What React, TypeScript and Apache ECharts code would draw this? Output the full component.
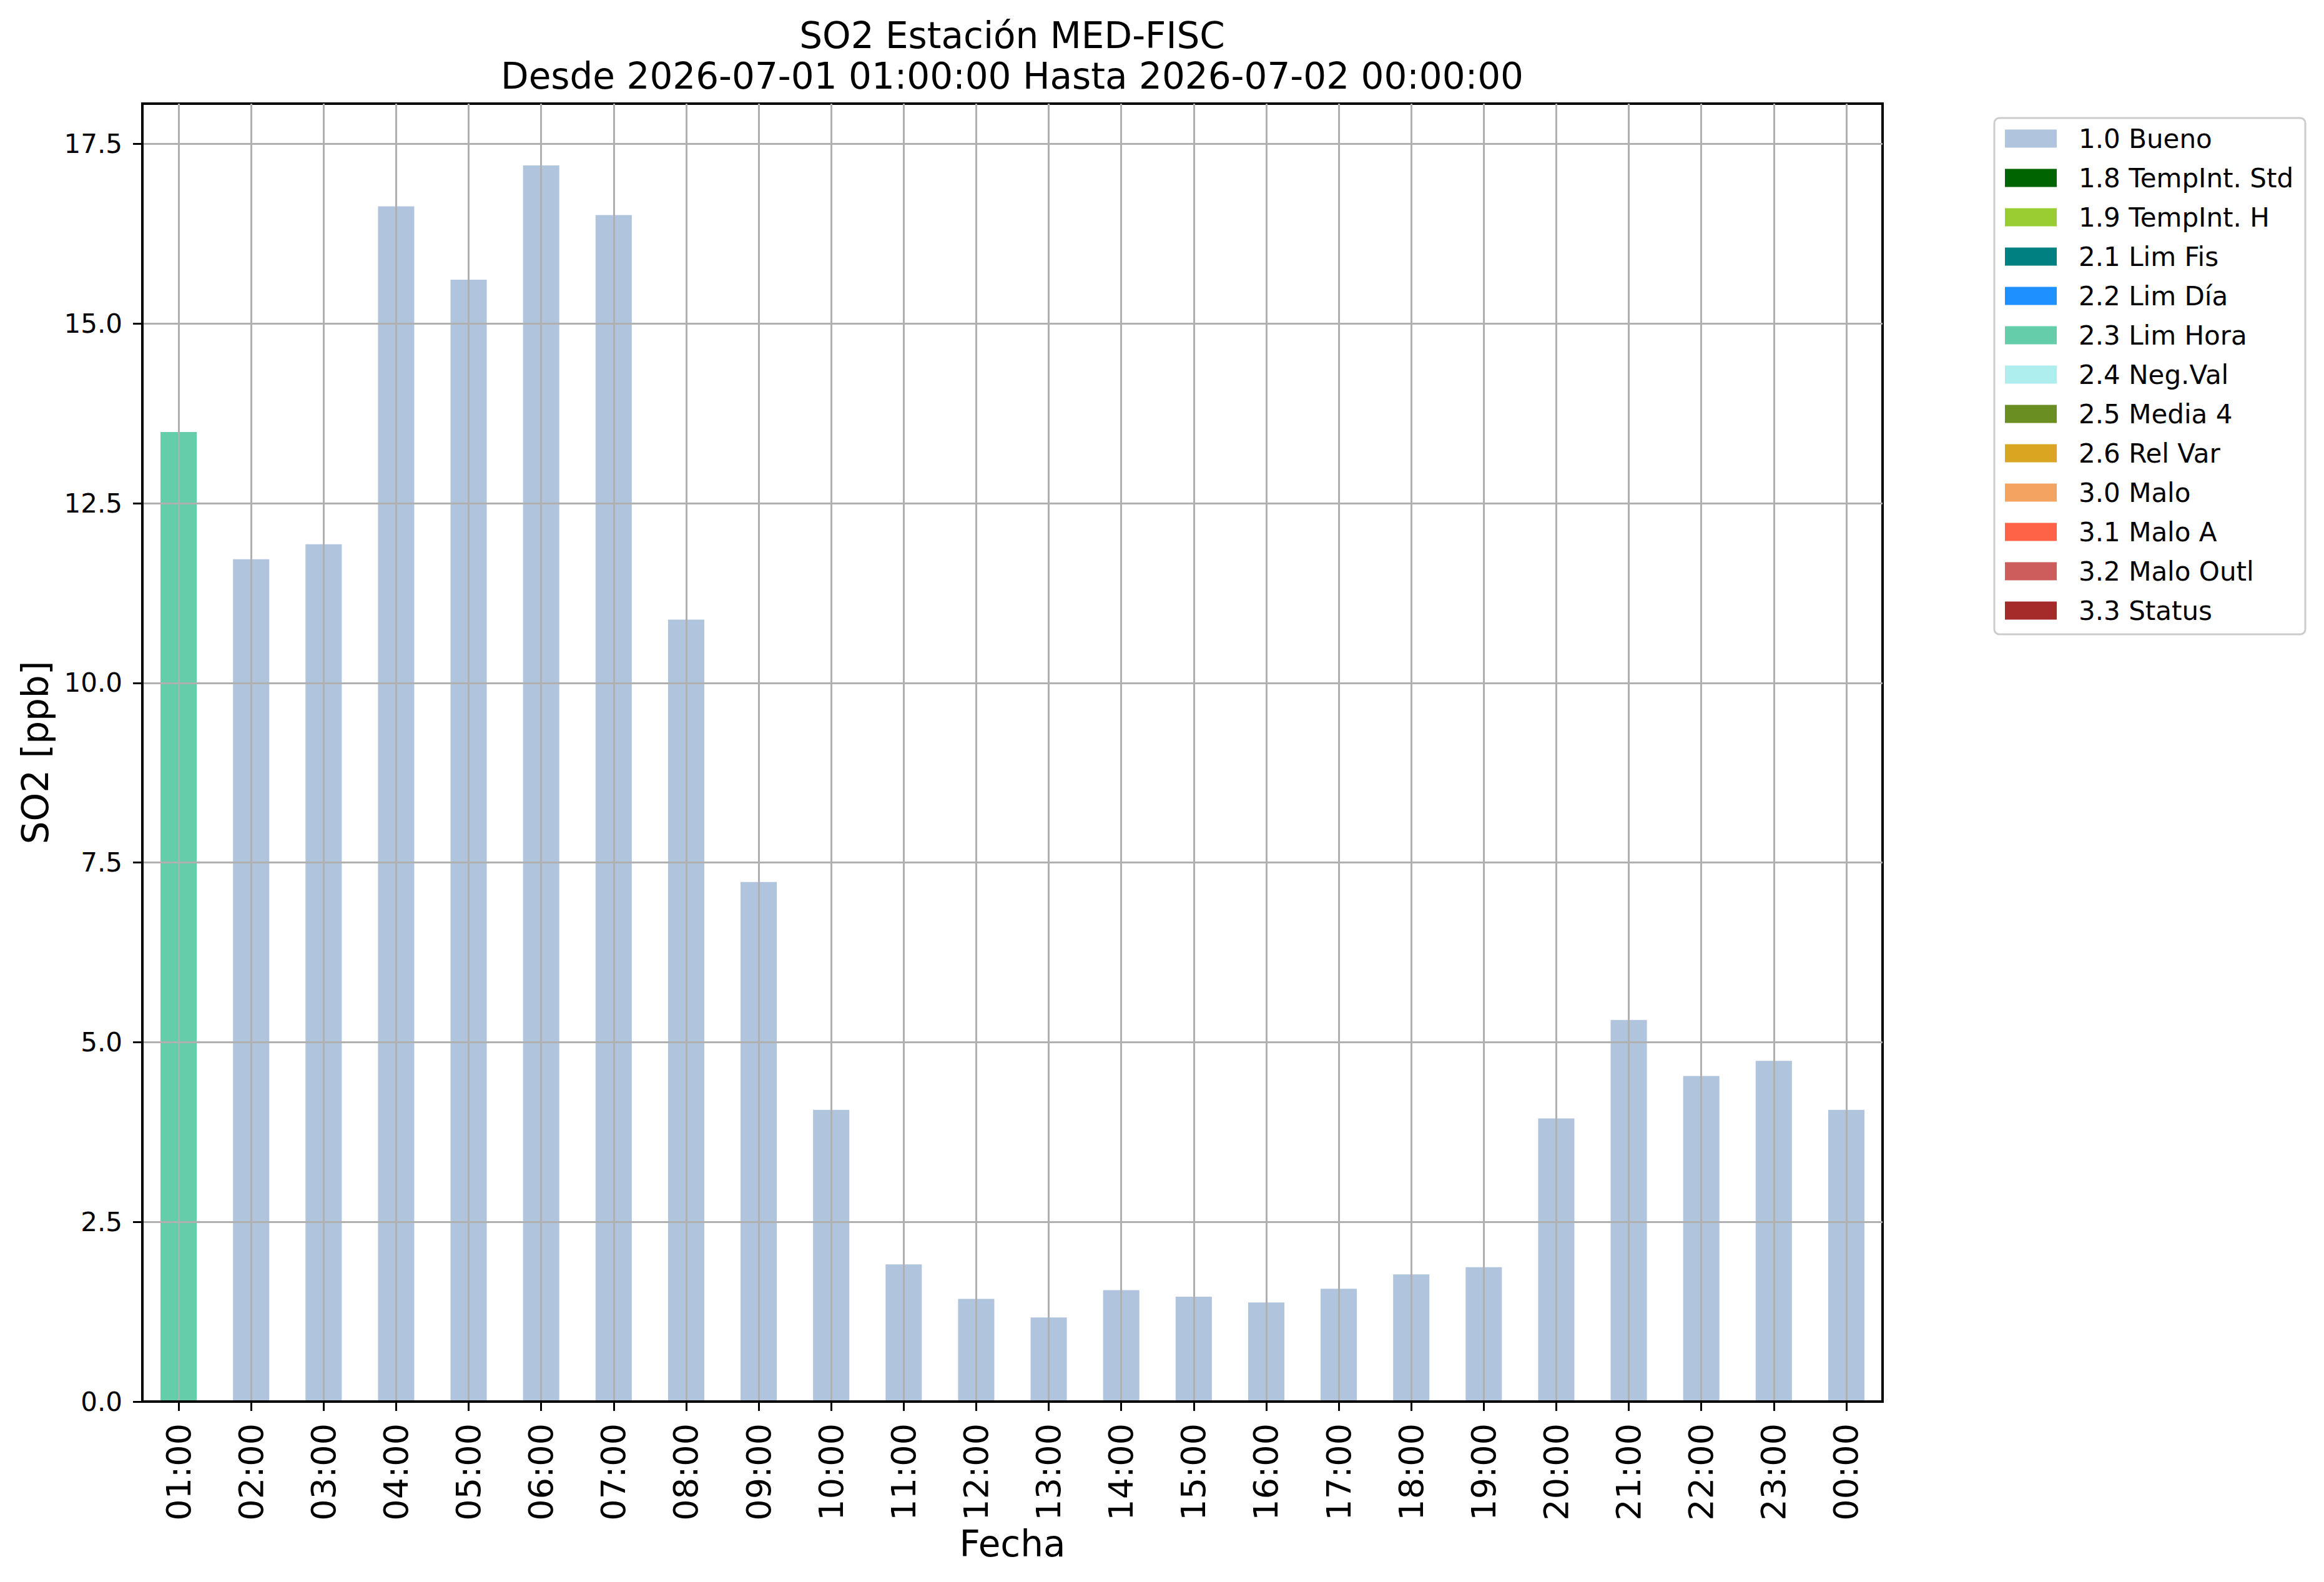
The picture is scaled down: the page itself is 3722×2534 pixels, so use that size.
import React, { useEffect, useRef } from "react";
import * as echarts from "echarts";

const hours = [
  "01:00", "02:00", "03:00", "04:00", "05:00", "06:00", "07:00", "08:00",
  "09:00", "10:00", "11:00", "12:00", "13:00", "14:00", "15:00", "16:00",
  "17:00", "18:00", "19:00", "20:00", "21:00", "22:00", "23:00", "00:00",
];

const so2Values = [
  13.49, 11.72, 11.93, 16.63, 15.61, 17.2, 16.51, 10.88,
  7.23, 4.06, 1.91, 1.43, 1.17, 1.55, 1.46, 1.38,
  1.57, 1.77, 1.87, 3.94, 5.31, 4.53, 4.74, 4.06,
];

const hourFlags = [
  "2.3 Lim Hora", "1.0 Bueno", "1.0 Bueno", "1.0 Bueno", "1.0 Bueno", "1.0 Bueno",
  "1.0 Bueno", "1.0 Bueno", "1.0 Bueno", "1.0 Bueno", "1.0 Bueno", "1.0 Bueno",
  "1.0 Bueno", "1.0 Bueno", "1.0 Bueno", "1.0 Bueno", "1.0 Bueno", "1.0 Bueno",
  "1.0 Bueno", "1.0 Bueno", "1.0 Bueno", "1.0 Bueno", "1.0 Bueno", "1.0 Bueno",
];

const flagNames = [
  "1.0 Bueno", "1.8 TempInt. Std", "1.9 TempInt. H", "2.1 Lim Fis", "2.2 Lim Día",
  "2.3 Lim Hora", "2.4 Neg.Val", "2.5 Media 4", "2.6 Rel Var", "3.0 Malo",
  "3.1 Malo A", "3.2 Malo Outl", "3.3 Status",
];

const flagColors = [
  "#B0C4DE", "#006400", "#9ACD32", "#008080", "#1E90FF",
  "#66CDAA", "#AFEEEE", "#6B8E23", "#DAA520", "#F4A460",
  "#FF6347", "#CD5C5C", "#A52A2A",
];

const yTicks = [0, 2.5, 5, 7.5, 10, 12.5, 15, 17.5];
const yMax = 18.06;

const titleLines = [
  "SO2 Estación MED-FISC",
  "Desde 2026-07-01 01:00:00 Hasta 2026-07-02 00:00:00",
];
const xName = "Fecha";
const yName = "SO2 [ppb]";

const FONT = "'DejaVu Sans', 'Liberation Sans', sans-serif";

export default function App() {
  const ref = useRef<HTMLDivElement>(null);

  useEffect(() => {
    document.body.style.margin = "0";
    if (!ref.current) return;
    const chart = echarts.init(ref.current, null, { renderer: "svg" });

    const series = flagNames.map((name, k) => ({
      name,
      type: "bar",
      stack: "all",
      barWidth: "50%",
      itemStyle: { color: flagColors[k] },
      emphasis: { disabled: true },
      data: so2Values.map((v, i) => (hourFlags[i] === name ? v : "-")),
    }));

    chart.setOption({
      animation: false,
      backgroundColor: "#ffffff",
      textStyle: { fontFamily: FONT },
      graphic: [
        {
          type: "text",
          x: 1621,
          y: 57,
          style: {
            text: titleLines[0],
            font: `58px ${FONT}`,
            fill: "#000",
            textAlign: "center",
            textVerticalAlign: "middle",
          },
        },
        {
          type: "text",
          x: 1621,
          y: 122,
          style: {
            text: titleLines[1],
            font: `58px ${FONT}`,
            fill: "#000",
            textAlign: "center",
            textVerticalAlign: "middle",
          },
        },
      ],
      legend: {
        orient: "vertical",
        left: 3194,
        top: 189,
        padding: [12, 19, 17, 17],
        itemWidth: 83,
        itemHeight: 29,
        itemGap: 21,
        icon: "rect",
        selectedMode: false,
        backgroundColor: "#ffffff",
        borderColor: "#cccccc",
        borderWidth: 3,
        borderRadius: 8,
        data: flagNames,
        textStyle: {
          fontFamily: FONT,
          fontSize: 42,
          lineHeight: 42,
          color: "#000",
          padding: [0, 0, 0, 30],
        },
      },
      grid: {
        left: 228,
        right: 707,
        top: 166,
        bottom: 289,
        show: true,
        borderColor: "#000",
        borderWidth: 4,
        backgroundColor: "transparent",
      },
      xAxis: {
        type: "category",
        data: hours,
        z: 5,
        name: xName,
        nameLocation: "middle",
        nameGap: 198,
        nameTextStyle: { fontFamily: FONT, fontSize: 58, color: "#000" },
        axisLine: { show: true, lineStyle: { color: "#000", width: 4 } },
        axisTick: {
          show: true,
          alignWithLabel: true,
          length: 15,
          lineStyle: { color: "#000", width: 3 },
        },
        axisLabel: {
          rotate: 90,
          fontFamily: FONT,
          fontSize: 54,
          color: "#000",
          margin: 35,
          interval: 0,
        },
        splitLine: {
          show: true,
          alignWithLabel: true,
          interval: 0,
          lineStyle: { color: "#b0b0b0", width: 3 },
        },
      },
      yAxis: {
        type: "value",
        min: 0,
        max: yMax,
        interval: 2.5,
        z: 5,
        name: yName,
        nameLocation: "middle",
        nameGap: 142,
        nameTextStyle: { fontFamily: FONT, fontSize: 58, color: "#000" },
        axisLine: { show: true, lineStyle: { color: "#000", width: 4 } },
        axisTick: {
          show: true,
          length: 15,
          customValues: yTicks,
          lineStyle: { color: "#000", width: 3 },
        },
        axisLabel: {
          fontFamily: FONT,
          fontSize: 42,
          color: "#000",
          margin: 32,
          customValues: yTicks,
          formatter: (v: number) => v.toFixed(1),
        },
        splitLine: {
          show: true,
          showMinLine: false,
          lineStyle: { color: "#b0b0b0", width: 3 },
        },
      },
      series,
    });

    return () => chart.dispose();
  }, []);

  return <div ref={ref} style={{ width: 3722, height: 2534 }} />;
}
